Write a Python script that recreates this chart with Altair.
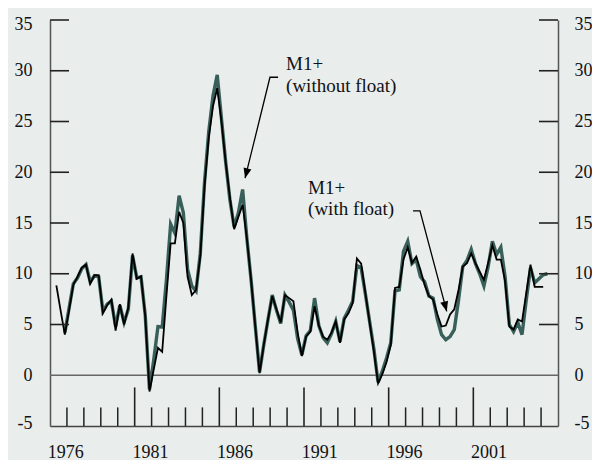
import altair as alt
import pandas as pd

# ---------------- data ----------------
# quarterly year-over-year growth, first observation of "with float": 1976 Q2
start_year = 1976
start_quarter = 2

m1_with_float = [
    8.85, 6.4, 4.0, 6.4, 8.9, 9.7, 10.6, 10.9, 9.0, 9.85,
    9.85, 6.1, 6.9, 7.45, 4.4, 7.0, 5.0, 6.7, 12.0, 9.5,
    9.75, 5.8, -1.6, 0.55, 2.7, 2.3, 7.8, 13.0, 13.0, 16.1,
    15.0, 9.7, 7.9, 8.4, 11.7, 18.6, 23.4, 26.5, 28.3, 25.0,
    21.0, 17.5, 14.4, 15.6, 16.8, 13.5, 9.4, 4.8, 0.2, 3.0,
    5.5, 7.8, 6.5, 5.2, 7.9, 7.6, 7.3, 4.2, 1.9, 3.8,
    4.3, 6.8, 4.9, 3.8, 3.5, 4.2, 5.3, 3.2, 5.5, 6.1,
    7.1, 11.5, 11.0, 8.1, 5.2, 2.4, -0.8, 0.1, 1.3, 3.0,
    8.6, 8.7, 11.4, 12.6, 11.05, 11.7, 10.4, 8.9, 7.8, 7.45,
    6.0, 4.8, 4.9, 6.0, 6.5, 8.4, 10.7, 11.05, 12.0, 11.05,
    10.2, 9.4, 11.05, 12.8, 11.4, 11.4, 9.25, 4.8, 4.5, 5.5,
    5.3, 8.1, 10.9, 8.7, 8.7, 8.7,
]

# "without float" starts two quarters later (1976 Q4)
without_float_lag = 2
m1_without_float = [
    4.2, 6.6, 9.0, 9.6, 10.5, 10.9, 9.2, 9.8, 9.7, 6.3,
    7.0, 7.3, 4.8, 6.9, 5.2, 6.5, 11.8, 9.6, 9.7, 5.9,
    -1.4, 1.5, 4.8, 4.75, 9.4, 14.9, 14.0, 17.7, 16.0, 10.4,
    8.8, 8.3, 12.0, 19.0, 24.0, 27.5, 29.6, 25.3, 21.0, 17.3,
    14.6, 16.0, 18.3, 13.5, 9.4, 4.8, 0.3, 3.0, 5.5, 7.9,
    6.4, 5.1, 7.9, 7.2, 6.4, 3.6, 2.0, 3.9, 4.4, 7.6,
    4.9, 3.7, 3.2, 4.1, 5.3, 3.3, 5.6, 6.4, 7.3, 10.8,
    10.6, 8.0, 5.3, 2.6, -0.7, 0.4, 1.7, 3.2, 8.3, 8.4,
    12.2, 13.2, 11.0, 11.4, 9.7, 9.2, 7.8, 7.6, 5.5, 4.0,
    3.5, 3.8, 4.5, 7.4, 10.7, 11.3, 12.4, 11.0, 10.0, 8.8,
    10.7, 13.2, 11.9, 12.6, 9.7, 5.0, 4.3, 5.2, 4.0, 7.4,
    10.6, 9.1, 9.5, 9.9, 10.0,
]

label_years = [1976, 1981, 1986, 1991, 1996, 2001]
minor_tick_years = list(range(1977, 2006))
major_tick_years = [1981, 1986, 1991, 1996, 2001]
y_tick_values = [5, 10, 15, 20, 25, 30, 35]
y_label_values = [-5, 0, 5, 10, 15, 20, 25, 30, 35]

# annotations (data coordinates)
ann_text = ["M1+", "(without float)", "M1+", "(with float)"]
ann_text_x = [1989.94, 1989.94, 1991.24, 1991.24]
ann_text_y = [30.08, 27.94, 17.84, 15.80]

arrow_id = [1, 1, 1, 2, 2, 2]
arrow_x = [1989.47, 1988.99, 1987.52, 1997.44, 1997.85, 1999.43]
arrow_y = [29.36, 29.36, 19.42, 16.2, 16.2, 6.29]
head_x = [1987.52, 1999.43]
head_y = [19.42, 6.29]
head_angle = [193.9, 165.1]

# ---------------- tables ----------------
t0 = start_year + (start_quarter - 1) / 4 + 0.125
df_with = pd.DataFrame({"t": [t0 + 0.25 * i for i in range(len(m1_with_float))],
                        "v": m1_with_float})
df_without = pd.DataFrame({"t": [t0 + 0.25 * (i + without_float_lag) for i in range(len(m1_without_float))],
                           "v": m1_without_float})
df_minor = pd.DataFrame({"t": [y for y in minor_tick_years if y not in major_tick_years]})
df_major = pd.DataFrame({"t": major_tick_years})
df_yt = pd.DataFrame({"v": y_tick_values})
df_zero = pd.DataFrame({"v": [0]})
df_ann = pd.DataFrame({"t": ann_text_x, "v": ann_text_y, "txt": ann_text})
df_arrow = pd.DataFrame({"id": arrow_id, "t": arrow_x, "v": arrow_y, "o": list(range(len(arrow_x)))})
df_head = pd.DataFrame({"t": head_x, "v": head_y, "ang": head_angle})

W, H = 508, 406
FONT = "Liberation Serif"
GREEN = "#385f59"

xscale = alt.Scale(domain=[1976, 2006], nice=False, zero=False)
yscale = alt.Scale(domain=[-5, 35], nice=False, zero=False)

xaxis = alt.Axis(values=[y + 0.9 for y in label_years], labelExpr="floor(datum.value)",
                 ticks=False, tickSize=0, grid=False, title=None,
                 domainColor="#444", domainWidth=1.5,
                 labelFont=FONT, labelFontSize=18, labelColor="#111", labelPadding=17)

flush_off = {"condition": [{"test": "datum.value == 35", "value": 4},
                           {"test": "datum.value == -5", "value": -3}], "value": 0}

yaxis_left = alt.Axis(orient="left", values=y_label_values, ticks=False, tickSize=0, grid=False,
                      title=None, domainColor="#555", domainWidth=1.5,
                      labelExpr="'' + datum.value",
                      labelFont=FONT, labelFontSize=18, labelColor="#111", labelPadding=18,
                      labelOffset=flush_off)
yaxis_right = alt.Axis(orient="right", values=y_label_values, ticks=False, tickSize=0, grid=False,
                       title=None, domainColor="#555", domainWidth=1.5,
                       labelExpr="'' + datum.value",
                       labelFont=FONT, labelFontSize=18, labelColor="#111", labelPadding=16,
                       labelOffset=flush_off)


def X(f="t"):
    return alt.X(f"{f}:Q", scale=xscale, axis=xaxis)


def Y(f="v", axis=None):
    return alt.Y(f"{f}:Q", scale=yscale, axis=axis)


green = alt.Chart(df_without).mark_line(color=GREEN, strokeWidth=3.4).encode(
    x=X(), y=Y(axis=yaxis_left))
black = alt.Chart(df_with).mark_line(color="#000", strokeWidth=1.8).encode(
    x=X(), y=Y(axis=yaxis_right))

zero = alt.Chart(df_zero).mark_rule(color="#666", strokeWidth=1.5).encode(y=Y())

ytick_l = alt.Chart(df_yt).mark_rule(color="#222", strokeWidth=1.6).encode(
    y=Y(), x=alt.value(0), x2=alt.value(19))
ytick_r = alt.Chart(df_yt).mark_rule(color="#222", strokeWidth=1.6).encode(
    y=Y(), x=alt.value(W - 19), x2=alt.value(W))

xtick_minor = alt.Chart(df_minor).mark_rule(color="#222", strokeWidth=1.5).encode(
    x=X(), y=alt.value(H), y2=alt.value(H - 18.6))
xtick_major = alt.Chart(df_major).mark_rule(color="#222", strokeWidth=1.6).encode(
    x=X(), y=alt.value(H), y2=alt.value(H - 38.6))

arrows = alt.Chart(df_arrow).mark_line(color="#000", strokeWidth=1.3).encode(
    x=X(), y=Y(), detail="id:N", order="o:Q")
heads = alt.Chart(df_head).mark_point(shape="M0,0 L-0.4,1 L0.4,1 Z", filled=True, size=400,
                                      color="#000", opacity=1).encode(
    x=X(), y=Y(), angle=alt.Angle("ang:Q", scale=None))

texts = alt.Chart(df_ann).mark_text(align="left", baseline="alphabetic", font=FONT,
                                    fontSize=19, color="#111").encode(
    x=X(), y=Y(), text="txt:N")

chart = alt.layer(
    zero, green, black, ytick_l, ytick_r, xtick_minor, xtick_major, arrows, heads, texts
).resolve_axis(y="independent").properties(
    width=W, height=H,
    autosize=alt.AutoSizeParams(type="none"),
    padding={"left": 42, "top": 12, "right": 34, "bottom": 34},
    background="#e9edec",
).configure_view(stroke=None)

chart.save("out.html", embed_options={"renderer": "svg", "actions": False})
